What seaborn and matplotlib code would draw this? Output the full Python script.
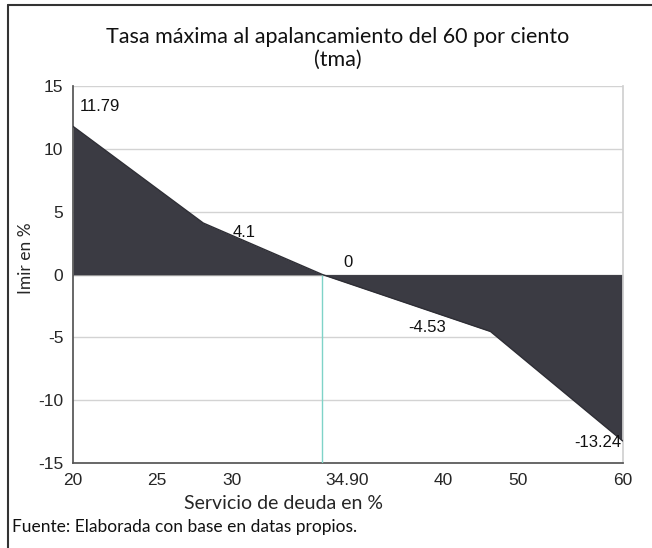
import numpy as np
import pandas as pd
import matplotlib
matplotlib.use("Agg")
import matplotlib.pyplot as plt
import seaborn as sns
from matplotlib.lines import Line2D

# data
servicio = [20, 28.07, 33.84, 46.35, 60]
tma = [11.79, 4.1, 0, -4.53, -13.24]
tick_labels = ["20", "25", "30", "34.90", "40", "50", "60"]
tick_vals = [20, 25, 30, 34.90, 40, 50, 60]
# the original axis is not linear: where each label sits along the axis
tick_pos = [0, 84, 159, 274, 370, 444, 549]

df = pd.DataFrame({"servicio": servicio, "tma": tma})
df["pos"] = np.interp(df["servicio"], tick_vals, tick_pos)

sns.set_theme(style="white")
plt.rcParams["font.family"] = ["Liberation Sans", "DejaVu Sans"]

fig = plt.figure(figsize=(6.52, 5.48), dpi=100)
ax = fig.add_axes([0.112, 0.155, 0.843, 0.688])

ax.fill_between(df["pos"], df["tma"], 0, color="#3b3b43", linewidth=0, zorder=2)
sns.lineplot(data=df, x="pos", y="tma", color="#2e2e35", linewidth=1, ax=ax, zorder=3)

for y in [15, 10, 5, -5, -10]:
    ax.axhline(y, color="#d3d3d3", linewidth=1, zorder=1)
ax.axhline(0, color="#9a9a9a", linewidth=1, zorder=1)

x0 = df.loc[df["tma"] == 0, "pos"].iloc[0]
ax.vlines(x0, -15, 0, color="#7fd3c8", linewidth=1, zorder=4)

# data labels
offsets = [(5, 14), (21, -6.5), (15, 9), (-32, 3), (-1, -1)]
aligns = ["left", "left", "left", "right", "right"]
for (px, val), (dx, dy), ha in zip(zip(df["pos"], df["tma"]), offsets, aligns):
    lab = f"{val:g}"
    ax.annotate(lab, (px, val), xytext=(dx, dy), textcoords="offset points",
                ha=ha, va="center", fontsize=12, color="#111111", zorder=5)

ax.set_xlim(tick_pos[0], tick_pos[-1])
ax.set_ylim(-15, 15)
ax.set_xticks(tick_pos)
ax.set_xticklabels(tick_labels, fontsize=12.5)
ax.set_yticks([15, 10, 5, 0, -5, -10, -15])
ax.set_yticklabels(["15", "10", "5", "0", "-5", "-10", "-15"], fontsize=12.5)
ax.tick_params(axis="y", length=0, pad=7)
ax.tick_params(axis="x", length=0, pad=7)
ax.set_xlabel("Servicio de deuda en %", fontsize=14, family=["Lato", "DejaVu Sans"])
ax.set_ylabel("Imir en %", fontsize=12.5, family=["Lato", "DejaVu Sans"])
ax.xaxis.set_label_coords(0.383, -0.108)
ax.yaxis.set_label_coords(-0.086, 0.544)
ax.xaxis.label.set_va("center")
ax.yaxis.label.set_va("center")

ax.spines["top"].set_visible(False)
ax.spines["right"].set_color("#d0d0d0")
ax.spines["left"].set_color("#555555")
ax.spines["bottom"].set_color("#555555")

fig.text(0.518, 0.932, "Tasa máxima al apalancamiento del 60 por ciento",
         ha="center", va="center", fontsize=15.5, family=["Lato", "DejaVu Sans"], color="#111111")
fig.text(0.518, 0.890, "(tma)", ha="center", va="center", fontsize=15.5,
         family=["Lato", "DejaVu Sans"], color="#111111")
fig.text(0.018, 0.038, "Fuente: Elaborada con base en datas propios.", ha="left", va="center",
         fontsize=12.5, family=["Lato", "DejaVu Sans"], color="#111111")

# outer frame of the scanned figure
fig.add_artist(Line2D([0.012, 1.0], [0.99, 0.99], color="#333333", linewidth=1.5))
fig.add_artist(Line2D([0.012, 0.012], [0.0, 0.99], color="#333333", linewidth=1.5))

fig.savefig("out.png", dpi=100)
